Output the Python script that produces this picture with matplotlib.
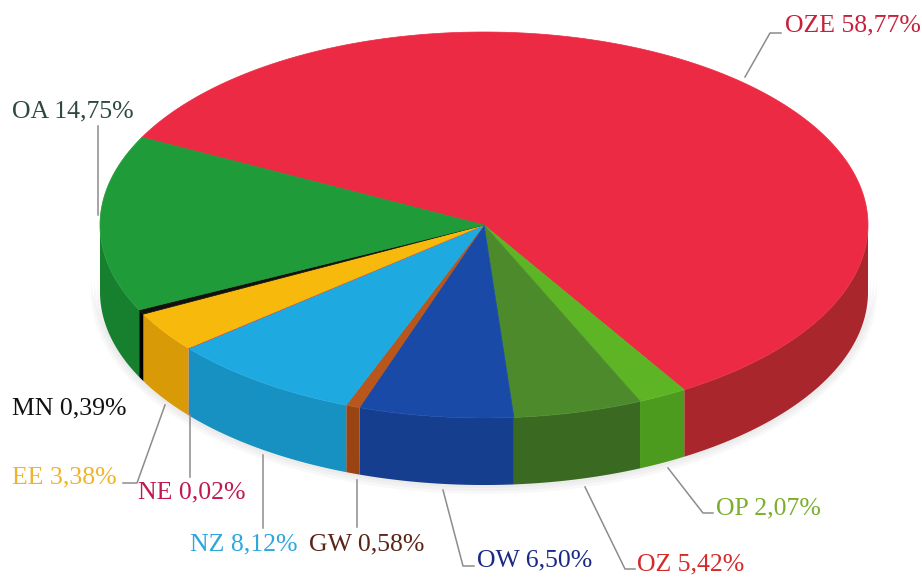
import numpy as np
import matplotlib
matplotlib.use("Agg")
import matplotlib.pyplot as plt
from matplotlib.patches import Polygon

# Data
labels = ["OZE", "OP", "OZ", "OW", "GW", "NZ", "NE", "EE", "MN", "OA"]
values = [58.77, 2.07, 5.42, 6.50, 0.58, 8.12, 0.02, 3.38, 0.39, 14.75]
top_colors = ["#EC2A44", "#5DB526", "#4C8A2C", "#1A4AA8", "#B8561C",
              "#1EAAE0", "#D0186A", "#F6B90C", "#111111", "#1F9B3A"]
side_colors = ["#A8262C", "#4C9A1E", "#3A6A22", "#163E8E", "#9A4414",
               "#1790C2", "#A01050", "#D89A06", "#000000", "#17802E"]
text_colors = ["#C8203A", "#7AAE2C", "#D42A2A", "#1A2A84", "#5A2418",
               "#2EA6DE", "#C01852", "#F0B428", "#111111", "#2E4A3E"]

# label text positions and leader lines (pixel coords)
text_pos = [(785, 25), (716, 508), (637, 564), (477, 560), (309, 544),
            (190, 544), (138, 492), (12, 477), (12, 408), (12, 111)]
leaders = [[(781, 33), (770, 33), (745, 77)],
           [(713, 513), (703, 513), (668, 468)],
           [(635, 569), (625, 569), (585, 487)],
           [(474, 566), (463, 566), (443, 490)],
           [(357, 527), (357, 480)],
           [(263, 528), (263, 455)],
           [(190, 477), (190, 415)],
           [(123, 483), (137, 483), (165, 405)],
           [],
           [(98, 126), (98, 215)]]

# pie geometry (pixels)
cx, cy = 484, 225
a, b = 384, 193
depth = 67
start = 153.0


def pt(theta_deg, dy=0):
    t = np.radians(theta_deg)
    return cx + a * np.cos(t), cy - b * np.sin(t) + dy


fig = plt.figure(figsize=(9.22, 5.77), dpi=100)
ax = fig.add_axes([0, 0, 1, 1])
ax.set_xlim(0, 922)
ax.set_ylim(577, 0)
ax.axis("off")

total = sum(values)
cum = np.concatenate([[0], np.cumsum(values)]) / total
bounds = [(start - 360 * cum[i + 1], start - 360 * cum[i]) for i in range(len(values))]

# soft shadow under the pie
for k in range(3):
    ts = np.linspace(180, 360, 200)
    xs = cx + (a + 3 + k * 3) * np.cos(np.radians(ts))
    ys = cy - (b + 3 + k * 3) * np.sin(np.radians(ts)) + depth
    ax.fill(np.r_[xs, xs[::-1]], np.r_[ys, ys[::-1] - 20], color="gray", alpha=0.05, lw=0)

# side walls (front half only)
for i, (t0, t1) in enumerate(bounds):
    for k in (-1, 0, 1):
        lo = max(t0, 180 + 360 * k)
        hi = min(t1, 360 + 360 * k)
        if hi <= lo:
            continue
        ts = np.linspace(lo, hi, 100)
        top = [pt(t) for t in ts]
        bot = [pt(t, depth) for t in ts[::-1]]
        ax.add_patch(Polygon(top + bot, closed=True, fc=side_colors[i], ec="none"))

# top faces
for i, (t0, t1) in enumerate(bounds):
    ts = np.linspace(t0, t1, max(3, int((t1 - t0) * 2)))
    poly = [(cx, cy)] + [pt(t) for t in ts]
    ax.add_patch(Polygon(poly, closed=True, fc=top_colors[i], ec=top_colors[i], lw=0.5))

# labels
for i, lab in enumerate(labels):
    if leaders[i]:
        xs, ys = zip(*leaders[i])
        ax.plot(xs, ys, color="#8C8C8C", lw=1.1)
    txt = f"{lab} {values[i]:.2f}%".replace(".", ",")
    ax.text(text_pos[i][0], text_pos[i][1], txt, color=text_colors[i],
            fontsize=18.5, family="Liberation Serif", va="center", ha="left")

fig.savefig("out.png", dpi=100)
